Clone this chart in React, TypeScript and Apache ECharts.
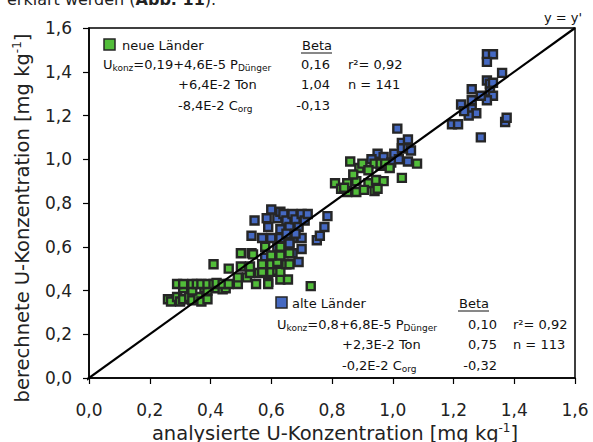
import React, { useEffect, useRef } from 'react';
import * as echarts from 'echarts';

// axis scale (both axes)
const AXIS_MIN = 0;
const AXIS_MAX = 1.6;
const AXIS_STEP = 0.2;

// neue Länder (green) – [analysiert, berechnet]
const neueLaender: [number, number][] = [
  [0.26, 0.36], [0.27, 0.35], [0.29, 0.37], [0.30, 0.35], [0.31, 0.36], [0.33, 0.37], [0.34, 0.355],
  [0.36, 0.37], [0.37, 0.35], [0.39, 0.36],
  [0.31, 0.41], [0.34, 0.40], [0.38, 0.41], [0.39, 0.40], [0.42, 0.41], [0.44, 0.405], [0.45, 0.41],
  [0.29, 0.43], [0.31, 0.43], [0.34, 0.43], [0.355, 0.43], [0.37, 0.43], [0.39, 0.43], [0.41, 0.43],
  [0.42, 0.435], [0.44, 0.43], [0.46, 0.43], [0.49, 0.43],
  [0.49, 0.46], [0.52, 0.46], [0.55, 0.43], [0.59, 0.44], [0.59, 0.43], [0.63, 0.45], [0.655, 0.45],
  [0.41, 0.52], [0.46, 0.50],
  [0.53, 0.48], [0.56, 0.48], [0.57, 0.485], [0.60, 0.485], [0.62, 0.49], [0.63, 0.485],
  [0.50, 0.51], [0.53, 0.51], [0.57, 0.52], [0.60, 0.52], [0.62, 0.53], [0.65, 0.52], [0.66, 0.52],
  [0.50, 0.57], [0.535, 0.57], [0.54, 0.565], [0.60, 0.56], [0.63, 0.56], [0.66, 0.57],
  [0.58, 0.60], [0.63, 0.60],
  [0.73, 0.42],
  [0.81, 0.89], [0.85, 0.89], [0.88, 0.90], [0.92, 0.89], [0.945, 0.905], [0.97, 0.90],
  [0.83, 0.865], [0.85, 0.85], [0.88, 0.85], [0.905, 0.86], [0.94, 0.855], [0.95, 0.865],
  [0.86, 0.99], [0.89, 0.96], [0.90, 0.98], [0.94, 0.98], [0.96, 0.98], [0.975, 0.98], [0.99, 0.96],
  [1.03, 0.915], [1.08, 0.98], [0.87, 0.93], [0.92, 0.95], [0.84, 0.87],
];

// alte Länder (blue)
const alteLaender: [number, number][] = [
  [0.535, 0.65], [0.545, 0.72], [0.57, 0.64], [0.585, 0.73], [0.60, 0.77], [0.60, 0.64], [0.62, 0.73],
  [0.63, 0.76], [0.63, 0.68], [0.63, 0.64], [0.64, 0.75], [0.65, 0.72], [0.66, 0.69], [0.67, 0.75],
  [0.67, 0.64], [0.68, 0.725], [0.69, 0.69], [0.70, 0.75], [0.70, 0.64], [0.70, 0.59], [0.69, 0.53],
  [0.71, 0.72], [0.72, 0.75], [0.75, 0.63], [0.76, 0.65], [0.775, 0.69], [0.785, 0.74],
  [0.58, 0.55], [0.61, 0.50], [0.64, 0.57], [0.66, 0.62], [0.62, 0.60], [0.68, 0.66], [0.59, 0.69],
  [0.65, 0.66], [0.67, 0.57], [0.63, 0.58], [0.66, 0.615],
  [0.95, 1.025], [0.97, 1.01], [0.995, 0.985], [1.005, 1.025], [1.015, 1.14], [1.03, 1.075],
  [1.05, 1.09], [1.03, 1.05], [1.05, 1.05], [1.02, 1.00], [1.05, 0.99], [1.06, 1.04], [0.93, 1.0],
  [0.96, 0.97],
  [1.195, 1.16], [1.215, 1.16], [1.29, 1.10], [1.37, 1.17], [1.375, 1.19],
  [1.31, 1.48], [1.33, 1.48], [1.31, 1.445], [1.36, 1.395], [1.31, 1.36], [1.32, 1.345], [1.33, 1.35],
  [1.26, 1.32], [1.32, 1.31], [1.33, 1.29], [1.31, 1.27], [1.29, 1.29], [1.26, 1.27], [1.225, 1.25],
  [1.26, 1.23], [1.275, 1.21], [1.25, 1.20], [1.235, 1.22],
];

// y = y' reference line
const identityLine: [number, number][] = [[-0.02, -0.02], [1.6, 1.6]];

const FONT = '"DejaVu Sans", Verdana, sans-serif';
const GREEN = '#52bd3a';
const BLUE = '#4569c2';
const EDGE = '#262626';
const TXT = '#111';

const fmt = (v: number) => v.toFixed(1).replace('.', ',');

const subRich = {
  sub: { fontSize: 9, lineHeight: 10, verticalAlign: 'bottom', fontFamily: FONT, fill: TXT },
};

function t(x: number, y: number, text: string, align: string = 'left', extra: any = {}) {
  return {
    type: 'text',
    x,
    y,
    silent: true,
    style: {
      text,
      fill: TXT,
      fontSize: 13,
      lineHeight: 16,
      fontFamily: FONT,
      align,
      verticalAlign: 'middle',
      rich: subRich,
      ...extra,
    },
  };
}

function underline(x1: number, x2: number, y: number) {
  return {
    type: 'line',
    silent: true,
    shape: { x1, y1: y, x2, y2: y },
    style: { stroke: TXT, lineWidth: 1 },
  };
}

function square(x: number, y: number, fill: string) {
  return {
    type: 'rect',
    silent: true,
    shape: { x, y, width: 11, height: 11 },
    style: { fill, stroke: EDGE, lineWidth: 1.5 },
  };
}

export default function App() {
  const ref = useRef<HTMLDivElement>(null);

  useEffect(() => {
    if (!ref.current) return;
    const chart = echarts.init(ref.current, undefined, { renderer: 'svg' });

    const axisCommon = {
      type: 'value',
      min: AXIS_MIN,
      max: AXIS_MAX,
      interval: AXIS_STEP,
      splitLine: { show: false },
      axisLine: { show: true, onZero: false, lineStyle: { color: '#000', width: 1.5 } },
      axisTick: { show: true, inside: false, length: 6, lineStyle: { color: '#000', width: 1.2 } },
    };

    const titleSup = {
      sup: { fontSize: 12, lineHeight: 12, verticalAlign: 'top', fontFamily: FONT, fill: '#222' },
    };

    chart.setOption({
      animation: false,
      grid: {
        left: 89,
        right: 18,
        top: 28,
        bottom: 64,
        show: true,
        borderColor: '#000',
        borderWidth: 1.5,
        backgroundColor: 'transparent',
      },
      xAxis: {
        ...axisCommon,
        axisLabel: {
          formatter: fmt,
          fontSize: 17,
          fontFamily: FONT,
          color: '#222',
          margin: 23,
        },
      },
      yAxis: {
        ...axisCommon,
        axisLabel: {
          formatter: fmt,
          fontSize: 17,
          fontFamily: FONT,
          color: '#222',
          margin: 17,
        },
      },
      series: [
        {
          name: 'alte Länder',
          type: 'scatter',
          data: alteLaender,
          symbol: 'rect',
          symbolSize: 8,
          itemStyle: { color: BLUE, borderColor: EDGE, borderWidth: 2.4, opacity: 1 },
          silent: true,
        },
        {
          name: 'neue Länder',
          type: 'scatter',
          data: neueLaender,
          symbol: 'rect',
          symbolSize: 8,
          itemStyle: { color: GREEN, borderColor: EDGE, borderWidth: 2.4, opacity: 1 },
          silent: true,
        },
        {
          name: "y = y'",
          type: 'line',
          data: identityLine,
          clip: false,
          symbol: 'none',
          lineStyle: { color: '#000', width: 2.2 },
          silent: true,
        },
      ],
      graphic: [
        // partial line of the surrounding document text (cut off at the top, as in the source)
        {
          type: 'text',
          x: 7,
          y: 7,
          silent: true,
          style: {
            text: 'erklärt werden ({b|Abb. 11}).',
            fill: '#222',
            fontSize: 16,
            fontFamily: FONT,
            align: 'left',
            verticalAlign: 'bottom',
            rich: { b: { fontSize: 16, fontWeight: 'bold', fontFamily: FONT, fill: '#222' } },
          },
        },
        // axis titles
        {
          type: 'text',
          x: 335,
          y: 433,
          silent: true,
          style: {
            text: 'analysierte U-Konzentration [mg kg{sup|-1}]',
            fill: '#222',
            fontSize: 19.5,
            lineHeight: 22,
            fontFamily: FONT,
            align: 'center',
            verticalAlign: 'middle',
            rich: titleSup,
          },
        },
        {
          type: 'text',
          x: 22,
          y: 218,
          rotation: Math.PI / 2,
          silent: true,
          style: {
            text: 'berechnete U-Konzentration [mg kg{sup|-1}]',
            fill: '#222',
            fontSize: 19.5,
            lineHeight: 22,
            fontFamily: FONT,
            align: 'center',
            verticalAlign: 'middle',
            rich: titleSup,
          },
        },
        // line label
        t(563, 17, "y = y'", 'center'),
        // neue Länder block
        square(104, 39, GREEN),
        t(122, 45, 'neue Länder'),
        t(332, 45, 'Beta', 'right'),
        underline(301, 332, 53),
        t(103, 64, 'U{sub|konz}=0,19+4,6E-5 P{sub|Dünger}'),
        t(330, 64, '0,16', 'right'),
        t(348, 64, 'r²= 0,92'),
        t(178, 84, '+6,4E-2 Ton'),
        t(330, 84, '1,04', 'right'),
        t(348, 84, 'n = 141'),
        t(178, 105, '-8,4E-2 C{sub|org}'),
        t(330, 105, '-0,13', 'right'),
        // alte Länder block
        square(276, 297, BLUE),
        t(292, 303, 'alte Länder'),
        t(489, 303, 'Beta', 'right'),
        underline(458, 489, 311),
        t(277, 324, 'U{sub|konz}=0,8+6,8E-5 P{sub|Dünger}'),
        t(497, 324, '0,10', 'right'),
        t(513, 324, 'r²= 0,92'),
        t(342, 344, '+2,3E-2 Ton'),
        t(497, 344, '0,75', 'right'),
        t(513, 344, 'n = 113'),
        t(342, 365, '-0,2E-2 C{sub|org}'),
        t(497, 365, '-0,32', 'right'),
      ],
    });

    return () => chart.dispose();
  }, []);

  return (
    <div
      ref={ref}
      style={{ position: 'fixed', left: 0, top: 0, width: 593, height: 442, background: '#fff' }}
    />
  );
}
